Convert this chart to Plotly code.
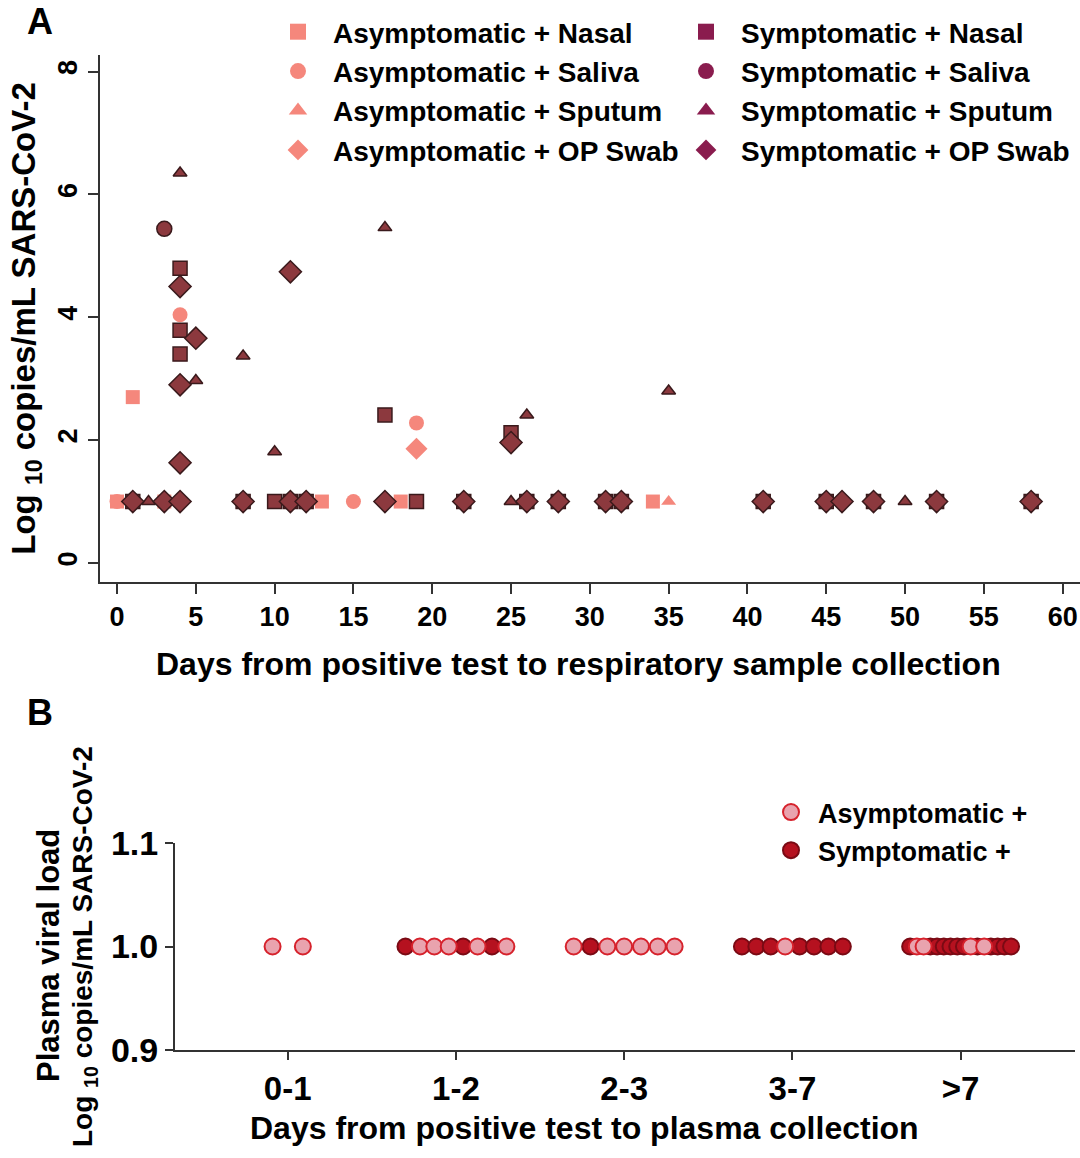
import plotly.graph_objects as go

# ---------------- Panel A data ----------------
asym_nasal_day = [0, 1, 3, 13, 18, 34]
asym_nasal_val = [1, 2.70, 1, 1, 1, 1]
asym_saliva_day = [0, 4, 15, 19]
asym_saliva_val = [1, 4.04, 1, 2.28]
asym_sputum_day = [35]
asym_sputum_val = [1]
asym_op_day = [19]
asym_op_val = [1.86]

sym_nasal_day = [1, 4, 4, 4, 8, 10, 11, 12, 17, 19, 22, 25, 26, 28, 31, 32, 41, 45, 48, 52, 58]
sym_nasal_val = [1, 4.80, 3.79, 3.40, 1, 1, 1, 1, 2.41, 1, 1, 2.12, 1, 1, 1, 1, 1, 1, 1, 1, 1]
sym_saliva_day = [3, 8, 11, 12, 22, 26, 28, 31, 32, 41, 45, 48, 52, 58]
sym_saliva_val = [5.44, 1, 1, 1, 1, 1, 1, 1, 1, 1, 1, 1, 1, 1]
sym_sputum_day = [2, 4, 5, 8, 10, 17, 25, 26, 35, 50]
sym_sputum_val = [1, 6.35, 2.97, 3.37, 1.81, 5.46, 1, 2.41, 2.80, 1]
sym_op_day = [1, 3, 4, 4, 4, 4, 5, 8, 11, 11, 12, 17, 22, 25, 26, 28, 31, 32, 41, 45, 46, 48, 52, 58]
sym_op_val = [1, 1, 4.50, 2.90, 1.63, 1, 3.66, 1, 4.74, 1, 1, 1, 1, 1.96, 1, 1, 1, 1, 1, 1, 1, 1, 1, 1]

# ---------------- Panel B data ----------------
plasma_categories = ["0-1", "1-2", "2-3", "3-7", ">7"]
# status of each plasma sample per category (A = asymptomatic, S = symptomatic)
plasma_status = [
    ["A", "A"],
    ["S", "A", "A", "A", "S", "A", "S", "A"],
    ["A", "S", "A", "A", "A", "A", "A"],
    ["S", "S", "S", "A", "S", "S", "S", "S"],
    ["S", "A", "A", "S", "S", "S", "S", "S", "S", "A", "S", "A", "S", "S", "S", "S"],
]
plasma_value = 1.0
y_ticks_A = [0, 2, 4, 6, 8]
x_ticks_A = list(range(0, 61, 5))
y_ticks_B = [0.9, 1.0, 1.1]

# ---------------- styles ----------------
FONT = "Liberation Sans, Arial, sans-serif"
ASYM = "#F5877C"
SYM_FILL = "#8C393E"
SYM_LINE = "#3A1A1C"
LEG_SYM = "#8A1C4E"
AXC = "#333333"

fig = go.Figure()

asym_series = [
    ("Asymptomatic + Nasal", asym_nasal_day, asym_nasal_val, "square", 14),
    ("Asymptomatic + Saliva", asym_saliva_day, asym_saliva_val, "circle", 15),
    ("Asymptomatic + Sputum", asym_sputum_day, asym_sputum_val, "triangle-up", 13),
    ("Asymptomatic + OP Swab", asym_op_day, asym_op_val, "diamond", 17),
]
sym_series = [
    ("Symptomatic + Nasal", sym_nasal_day, sym_nasal_val, "square", 14),
    ("Symptomatic + Saliva", sym_saliva_day, sym_saliva_val, "circle", 15),
    ("Symptomatic + Sputum", sym_sputum_day, sym_sputum_val, "triangle-up", 12),
    ("Symptomatic + OP Swab", sym_op_day, sym_op_val, "diamond", 17),
]

for name, xd, yd, sym, sz in asym_series:
    fig.add_trace(go.Scatter(x=xd, y=yd, mode="markers", name=name, showlegend=False,
                             marker=dict(symbol=sym, size=sz, color=ASYM, line=dict(width=0)),
                             xaxis="x", yaxis="y"))
for name, xd, yd, sym, sz in sym_series:
    fig.add_trace(go.Scatter(x=xd, y=yd, mode="markers", name=name, showlegend=False,
                             marker=dict(symbol=sym, size=sz, color=SYM_FILL,
                                         line=dict(width=1.5, color=SYM_LINE)),
                             xaxis="x", yaxis="y"))

# legend entries (panel A)
for i, (name, xd, yd, sym, sz) in enumerate(asym_series):
    fig.add_trace(go.Scatter(x=[None], y=[None], mode="markers", name=name, legend="legend",
                             legendgroup="a%d" % i,
                             marker=dict(symbol=sym, size=18, color=ASYM), xaxis="x", yaxis="y"))
for i, (name, xd, yd, sym, sz) in enumerate(sym_series):
    fig.add_trace(go.Scatter(x=[None], y=[None], mode="markers", name=name, legend="legend2",
                             legendgroup="s%d" % i,
                             marker=dict(symbol=sym, size=18, color=LEG_SYM), xaxis="x", yaxis="y"))

# ---------------- Panel B traces ----------------
bx = {"A": [], "S": []}
for ci, statuses in enumerate(plasma_status):
    n = len(statuses)
    step = min(0.18, 0.6 / (n - 1)) if n > 1 else 0
    for k, s in enumerate(statuses):
        bx[s].append(ci + (k - (n - 1) / 2) * step)

fig.add_trace(go.Scatter(x=bx["S"], y=[plasma_value] * len(bx["S"]), mode="markers",
                         name="Symptomatic +", legend="legend3", legendrank=2,
                         marker=dict(symbol="circle", size=16, color="#B5111F",
                                     line=dict(width=2, color="#7A0A14")),
                         xaxis="x2", yaxis="y2"))
fig.add_trace(go.Scatter(x=bx["A"], y=[plasma_value] * len(bx["A"]), mode="markers",
                         name="Asymptomatic +", legend="legend3", legendrank=1,
                         marker=dict(symbol="circle", size=16, color="#E9A3AE",
                                     line=dict(width=2, color="#D6222C")),
                         xaxis="x2", yaxis="y2"))

W, H = 1080, 1158
def px(v):
    return v / W
def py(v):
    return 1 - v / H

axis_common = dict(showline=True, linecolor=AXC, linewidth=2, ticks="outside", tickcolor=AXC,
                   tickwidth=2, showgrid=False, zeroline=False, mirror=False, automargin=False)

fig.update_layout(
    width=W, height=H,
    margin=dict(l=0, r=0, t=0, b=0, pad=0, autoexpand=False),
    paper_bgcolor="white", plot_bgcolor="white",
    font=dict(family=FONT, color="black", size=24, weight="bold"),
    xaxis=dict(domain=[px(100), 1], range=[-1.08, 61.1], tickvals=x_ticks_A, ticklen=10,
               tickfont=dict(size=27, weight="bold"), anchor="y", **axis_common),
    yaxis=dict(domain=[py(582), py(55)], range=[-0.31, 8.27], tickvals=y_ticks_A, ticklen=10,
               tickangle=-90, tickfont=dict(size=27, weight="bold"),
               title=dict(text="Log <sub>10</sub> copies/mL SARS-CoV-2",
                          font=dict(size=33, weight="bold"), standoff=8),
               anchor="x", **axis_common),
    xaxis2=dict(domain=[px(175), px(1075)], range=[-0.67, 4.68],
                tickvals=list(range(len(plasma_categories))), ticktext=plasma_categories,
                ticklen=8, tickfont=dict(size=33, weight="bold"), anchor="y2", **axis_common),
    yaxis2=dict(domain=[py(1050), py(843)], range=[0.9, 1.1], tickvals=y_ticks_B,
                ticktext=["0.9", "1.0", "1.1"], ticklen=8, tickfont=dict(size=34, weight="bold"),
                anchor="x2", **axis_common),
    legend=dict(x=px(263), y=py(7), xanchor="left", yanchor="top", itemwidth=60,
                font=dict(size=28, weight="bold"), tracegroupgap=0, bgcolor="rgba(0,0,0,0)"),
    legend2=dict(x=px(671), y=py(7), xanchor="left", yanchor="top", itemwidth=60,
                 font=dict(size=28, weight="bold"), tracegroupgap=0, bgcolor="rgba(0,0,0,0)"),
    legend3=dict(x=px(764), y=py(788), xanchor="left", yanchor="top", itemwidth=44,
                 font=dict(size=27, weight="bold"), bgcolor="rgba(0,0,0,0)"),
    annotations=[
        dict(text="A", x=px(40), y=py(22), xref="paper", yref="paper", showarrow=False,
             xanchor="center", yanchor="middle", font=dict(size=36, weight="bold")),
        dict(text="B", x=px(40), y=py(712), xref="paper", yref="paper", showarrow=False,
             xanchor="center", yanchor="middle", font=dict(size=36, weight="bold")),
        dict(text="Days from positive test to respiratory sample collection",
             x=px(578), y=py(664), xref="paper", yref="paper", showarrow=False,
             xanchor="center", yanchor="middle", font=dict(size=32, weight="bold")),
        dict(text="Days from positive test to plasma collection",
             x=px(584), y=py(1128), xref="paper", yref="paper", showarrow=False,
             xanchor="center", yanchor="middle", font=dict(size=32, weight="bold")),
        dict(text="Plasma viral load", x=px(48), y=py(956), xref="paper", yref="paper",
             showarrow=False, textangle=-90, xanchor="center", yanchor="middle",
             font=dict(size=31, weight="bold")),
        dict(text="Log <sub>10</sub> copies/mL SARS-CoV-2", x=px(84), y=py(947), xref="paper",
             yref="paper", showarrow=False, textangle=-90, xanchor="center", yanchor="middle",
             font=dict(size=28, weight="bold")),
    ],
)

fig.write_html("out.html")
